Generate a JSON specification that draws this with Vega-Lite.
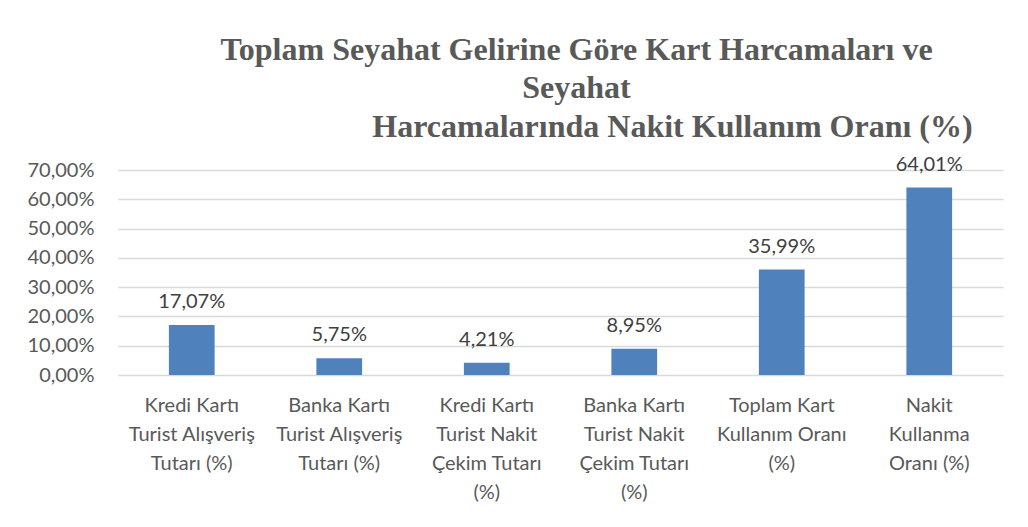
{
  "$schema": "https://vega.github.io/schema/vega-lite/v6.json",
  "width": 885,
  "height": 205,
  "autosize": {"type": "none"},
  "padding": {"left": 118, "top": 170, "right": 25, "bottom": 152},
  "background": "white",
  "config": {
    "locale": {"number": {"decimal": ",", "thousands": ".", "grouping": [3], "currency": ["", " TL"]}},
    "view": {"stroke": null},
    "font": "Lato"
  },
  "title": {
    "text": ["Toplam Seyahat Gelirine Göre Kart Harcamaları ve", "Seyahat", "\u200b\u00a0\u00a0\u00a0\u00a0\u00a0\u00a0\u00a0\u00a0\u00a0\u00a0\u00a0\u00a0\u00a0\u00a0\u00a0\u00a0\u00a0\u00a0\u00a0\u00a0\u00a0\u00a0\u00a0\u00a0Harcamalarında Nakit Kullanım Oranı (%)"],
    "font": "Liberation Serif",
    "fontSize": 32,
    "fontWeight": "bold",
    "color": "#595959",
    "lineHeight": 38.5,
    "anchor": "middle",
    "frame": "group",
    "offset": 11,
    "dx": 16
  },
  "data": {
    "values": [
      {"kategori": "Kredi Kartı\nTurist Alışveriş\nTutarı (%)", "oran": 0.1707},
      {"kategori": "Banka Kartı\nTurist Alışveriş\nTutarı  (%)", "oran": 0.0575},
      {"kategori": "Kredi Kartı\nTurist Nakit\nÇekim Tutarı\n(%)", "oran": 0.0421},
      {"kategori": "Banka Kartı\nTurist Nakit\nÇekim Tutarı\n(%)", "oran": 0.0895},
      {"kategori": "Toplam Kart\nKullanım Oranı\n(%)", "oran": 0.3599},
      {"kategori": "Nakit\nKullanma\nOranı  (%)", "oran": 0.6401}
    ]
  },
  "encoding": {
    "x": {
      "field": "kategori",
      "type": "nominal",
      "sort": null,
      "scale": {"paddingInner": 0.69, "paddingOuter": 0.345},
      "axis": {
        "title": null,
        "labelAngle": 0,
        "domain": false,
        "ticks": false,
        "labelPadding": 20,
        "labelFontSize": 20,
        "labelColor": "#595959",
        "labelLineHeight": 29,
        "labelBaseline": "top",
        "labelExpr": "split(datum.label, '\\n')"
      }
    },
    "y": {
      "field": "oran",
      "type": "quantitative",
      "scale": {"domain": [0, 0.7], "nice": false},
      "axis": {
        "title": null,
        "values": [0, 0.1, 0.2, 0.3, 0.4, 0.5, 0.6, 0.7],
        "format": ".2%",
        "domain": false,
        "ticks": false,
        "labelPadding": 24,
        "labelFontSize": 20,
        "labelColor": "#595959",
        "gridColor": "#d9d9d9",
        "gridWidth": 1.5
      }
    }
  },
  "layer": [
    {"mark": {"type": "bar", "color": "#4f81bd"}},
    {
      "mark": {"type": "text", "baseline": "bottom", "dy": -13, "fontSize": 20, "color": "#404040", "font": "Lato"},
      "encoding": {"text": {"field": "oran", "type": "quantitative", "format": ".2%"}}
    }
  ]
}
